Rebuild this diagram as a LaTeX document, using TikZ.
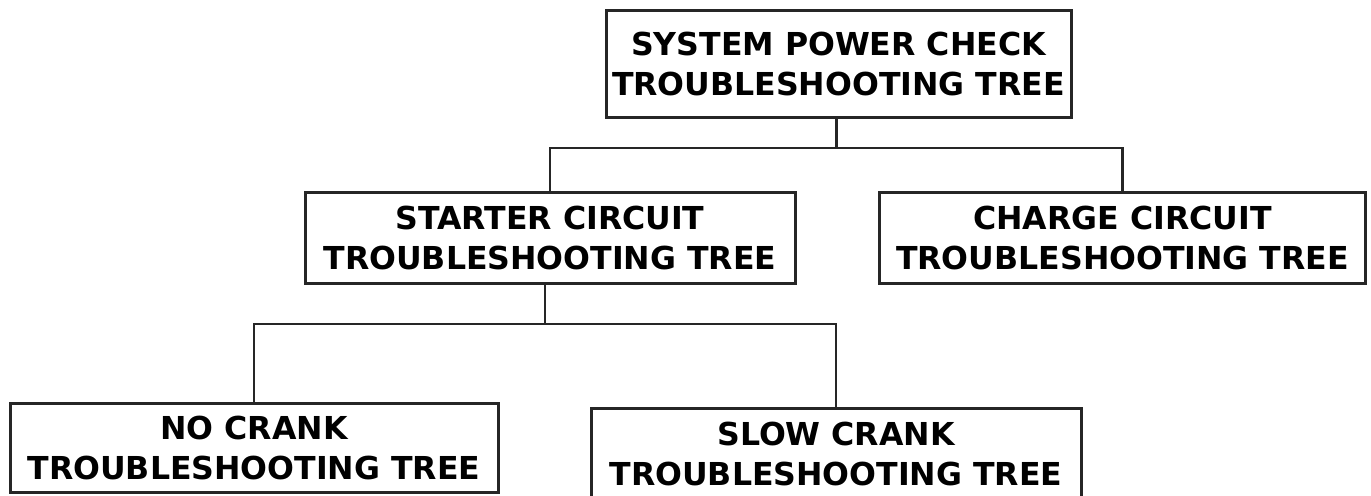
\documentclass[tikz,border=0pt]{standalone}
\usepackage{fontspec}
\setmainfont{DejaVu Sans}
\usetikzlibrary{positioning}

\begin{document}
\begin{tikzpicture}[
  x=0.5pt, y=-0.5pt,
  treebox/.style={rectangle, draw=black!85, line width=1.5pt, fill=white,
                  align=center, inner sep=0pt,
                  font=\fontsize{15.8}{20}\selectfont\bfseries},
  conn/.style={draw=black!85, line width=1.3pt}
]
\useasboundingbox (0,0) rectangle (1371,495);

% --- Level 1 ---
\node[treebox, minimum width=232.5pt, minimum height=53.5pt] (sys) at (838.5,63.5)
      {SYSTEM POWER CHECK\\TROUBLESHOOTING TREE};

% --- Level 2 ---
\node[treebox, minimum width=245pt, minimum height=45.5pt] (starter) at (550,237.5)
      {STARTER CIRCUIT\\TROUBLESHOOTING TREE};
\node[treebox, minimum width=243pt, minimum height=45.5pt] (charge) at (1122.5,237.5)
      {CHARGE CIRCUIT\\TROUBLESHOOTING TREE};

% --- Level 3 ---
\node[treebox, minimum width=244pt, minimum height=44.5pt] (nocrank) at (254,447.5)
      {NO CRANK\\TROUBLESHOOTING TREE};
\node[treebox, minimum width=245pt, minimum height=45.5pt] (slowcrank) at (836,453.5)
      {SLOW CRANK\\TROUBLESHOOTING TREE};

\coordinate (bus1) at (0,148);
\coordinate (bus2) at (0,324);

\draw[conn] ([xshift=-1pt]sys.south) -- ([xshift=-1pt]sys.south |- bus1);
\draw[conn] (starter.north) |- (charge.north |- bus1) -- (charge.north);

\draw[conn] ([xshift=-2.5pt]starter.south) -- ([xshift=-2.5pt]starter.south |- bus2);
\draw[conn] (nocrank.north) |- (slowcrank.north |- bus2) -- (slowcrank.north);

\end{tikzpicture}
\end{document}
